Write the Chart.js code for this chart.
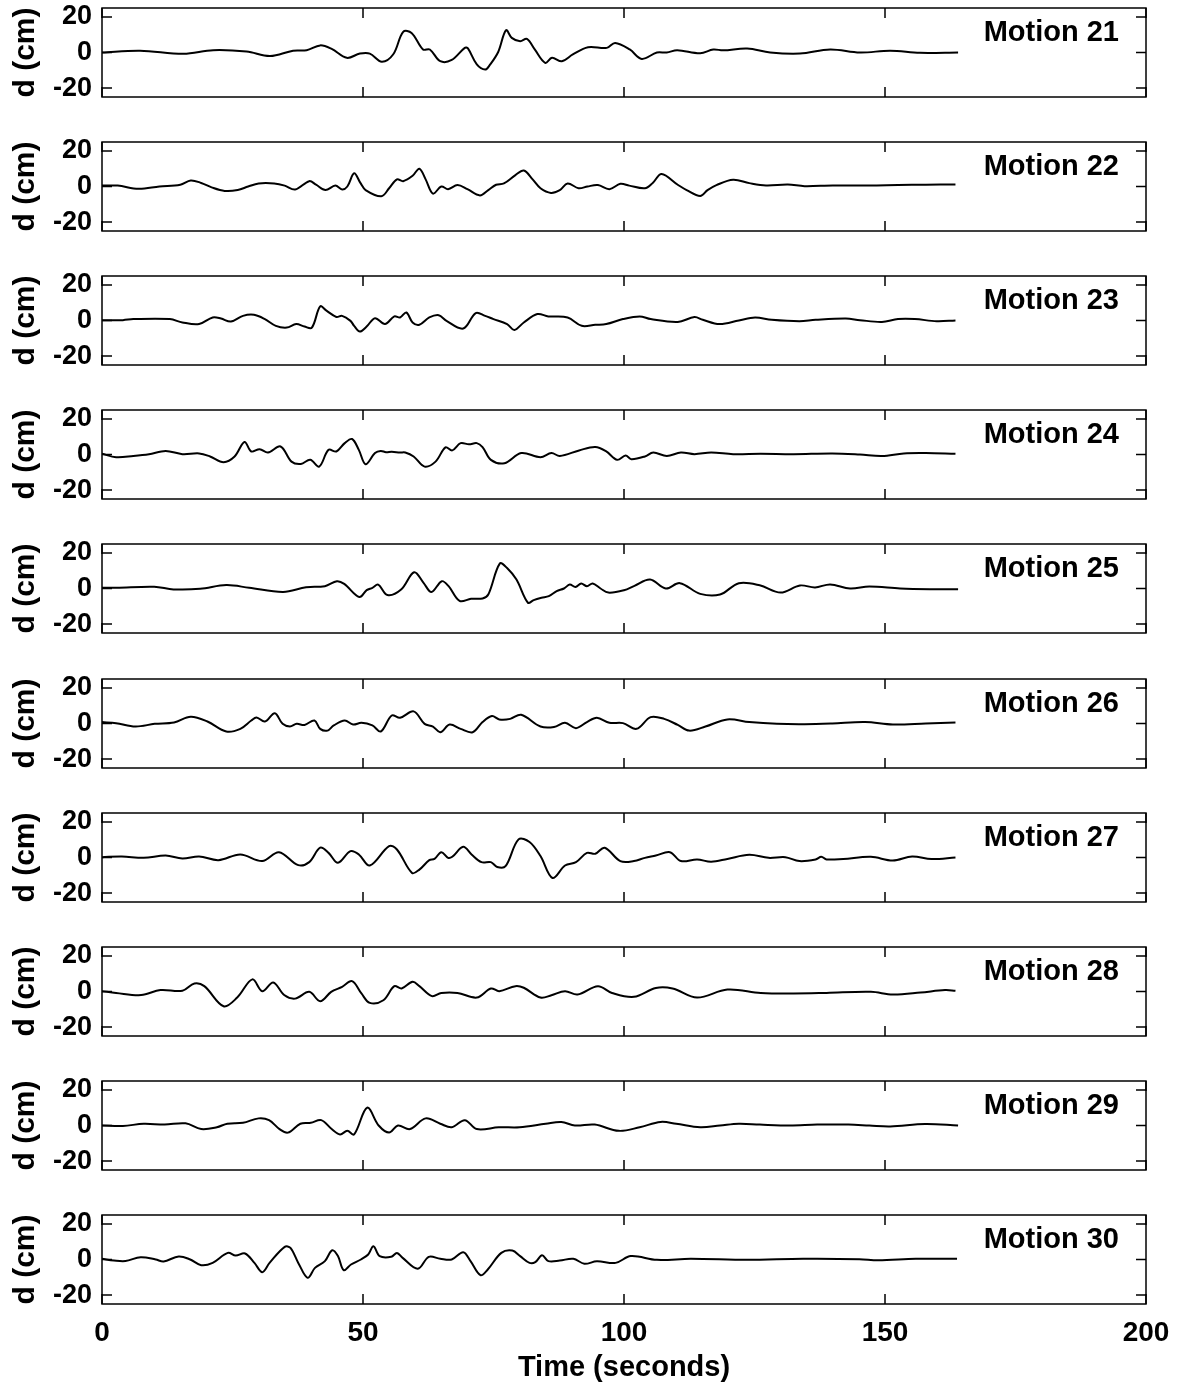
<!DOCTYPE html>
<html>
<head>
<meta charset="utf-8">
<script src="https://cdn.jsdelivr.net/npm/chart.js@4.4.1/dist/chart.umd.min.js"></script>
<style>
  html, body { margin: 0; padding: 0; background: #fff; }
  #wrap { position: relative; width: 1184px; height: 1390px; }
  canvas { position: absolute; left: 0; }
</style>
</head>
<body>
<div id="wrap"></div>
<script>
const motionNames = ["Motion 21", "Motion 22", "Motion 23", "Motion 24", "Motion 25",
  "Motion 26", "Motion 27", "Motion 28", "Motion 29", "Motion 30"];
const xTicks = [0, 50, 100, 150, 200];
const yTicks = [-20, 0, 20];

// [time (s), displacement (cm)]
const m21 = [[0,0],[7.3,1],[15.6,-0.7],[21.3,1.3],[27.7,0.5],[32.2,-2],[36.6,1],[39.2,1.3],[41.8,4],[44,2],[46.9,-3],[49.4,-0.6],[51.3,-0.6],[53.6,-5.2],[55.8,-1],[57.7,11.6],[59.3,11],[61.5,1.7],[62.8,1.7],[64.8,-4.9],[67,-4.2],[69.5,2.6],[70.1,2.3],[71.8,-6.7],[73.4,-9.6],[74.3,-7],[75.9,0.3],[77.4,12.5],[78.5,8.2],[80.1,6.3],[81.4,7.6],[82.9,1.7],[84.9,-5.8],[86.2,-3],[88.1,-4.9],[90.2,-1.1],[93.1,3],[96.7,2.6],[98.3,5.4],[101.1,1.7],[103.4,-3.6],[106.3,0],[108.2,0],[110.2,1.3],[114.6,-0.4],[117.1,1.7],[119,1.2],[123.6,2.2],[128,0],[133.7,-0.6],[139.5,1.7],[145.2,0],[151,1],[156.7,-0.2],[164,0]];
const m22 = [[0,0.5],[3,0.5],[7,-1.3],[11,0],[15,1],[17,3.4],[19,2],[21,-0.5],[23.5,-2.5],[26,-2],[28,0],[30,1.7],[33,1.7],[35,0.5],[37,-1.7],[39.7,3],[41,1],[42.8,-2],[44.7,0.5],[46,-1.7],[47,0],[48.3,7.4],[49.5,2],[50.5,-2],[53.5,-5.5],[55,-1],[56.5,4],[57.7,3],[59.5,6],[60.8,10],[62,4],[63.4,-4],[65,0],[66.3,-1.5],[68.1,0.8],[70,-1.5],[72.4,-5],[74,-2],[75.5,1],[77,1.7],[79.2,6.4],[80.8,9],[82.5,4],[84,-1],[86,-3.6],[87.7,-2],[89.2,1.7],[91.3,-1],[93,0],[95,0.8],[97.2,-1.5],[99.3,1.5],[101,0.5],[104,-1],[105.5,2],[107.2,7],[110.3,1],[112,-2],[114.6,-5.3],[116,-2],[117.7,0.8],[120.9,3.8],[124,1.9],[127.2,0.6],[131.4,1.1],[134.6,0.2],[140,0.6],[147,0.5],[152.5,0.8],[157.8,1],[163.5,1.1]];
const m23 = [[0,0.2],[4,0.2],[6,0.8],[13,0.8],[15.4,-1.1],[18.6,-2],[21.2,1.7],[22.8,1.1],[24.7,-0.6],[27,2.6],[29.1,3.2],[31.2,0.8],[33.3,-3],[35.4,-4],[37.2,-2],[38.8,-3.4],[40.2,-4],[41.8,7.9],[43,5.5],[44.9,2],[46,2.6],[47.6,-0.2],[48.3,-3],[49.4,-6.2],[50.7,-3.4],[52.3,1.3],[54.2,-2],[56,2.3],[57.1,1.7],[58.3,4.5],[59.5,-1.1],[60.8,-2.4],[62.7,1.7],[64.5,3],[66,-0.2],[69.2,-4.5],[71.6,4.2],[73.4,2.6],[75,0.8],[77.6,-2],[79,-5.3],[80.8,-1.1],[83.4,3.6],[85.5,2.3],[89.2,1.7],[91.9,-3],[94.5,-2.4],[96.6,-2],[99.8,0.8],[103,2.3],[105.1,0.8],[110.3,-0.8],[113.5,1.9],[115.1,0.4],[118.3,-2],[122,0],[125.1,1.7],[128.3,0.4],[133.6,-0.4],[136.7,0.4],[142.5,1.1],[145.2,0.2],[149.4,-0.8],[152.5,0.8],[155.7,0.8],[159.9,-0.4],[163.5,0]];
const m24 = [[0,0.4],[2.7,-1.5],[6,-0.8],[9,0.2],[12.2,2],[15.4,0.2],[18.6,0.6],[20.7,-1.1],[23.3,-4.3],[25.4,-1.1],[27.3,7],[28.6,1.7],[30.2,3],[31.8,1.1],[34.2,4.5],[36.3,-4],[38.1,-5.3],[39.9,-3],[41.6,-6.8],[43.4,2.6],[44.9,1.7],[46.5,6.4],[47.9,8.7],[49.2,2.6],[50.5,-5.5],[52.3,0.8],[53.4,2],[54.4,1.3],[55.5,1.5],[57.1,1.1],[58.1,1.1],[59.7,-1.1],[61.8,-6.8],[63.9,-4],[65.8,4],[67.1,2.3],[68.7,6.4],[70.3,5.7],[71.8,6.4],[72.9,4.2],[74.5,-3],[77.1,-4.9],[80.3,0.8],[84,-1.5],[86.1,0.8],[87.7,-0.8],[91.4,2.3],[94.5,4.2],[96.6,1.7],[98.7,-3],[100.3,-0.6],[101.4,-2.6],[104,-1.1],[105.6,1.1],[108.2,-0.8],[110.9,1.1],[113.5,0.2],[116.7,1.1],[120.9,0.2],[126.2,0.4],[132.5,0.2],[139.9,0.6],[145.2,0],[149.4,-0.8],[153.6,0.6],[157.8,0.8],[163.5,0.4]];
const m25 = [[0,0.4],[2.8,0.4],[10,1],[13.7,-0.5],[18.8,-0.2],[23.8,1.9],[28.2,0.4],[34.7,-1.9],[39.1,0.7],[42.7,1.3],[45,4.1],[46.4,2.6],[49.3,-4.8],[50.7,-0.9],[51.8,0.4],[52.9,2.2],[54.7,-3.7],[57.3,-0.6],[59.8,9.1],[61.6,3.2],[63.1,-2],[65.1,4.1],[66.4,1.3],[68.5,-7],[70.7,-5.8],[72.9,-5.6],[74,-3.4],[76.2,14],[77.6,11.5],[79.4,5],[81.6,-8],[82.7,-6.5],[84.2,-5.2],[85.6,-4.3],[87.1,-1.5],[88.5,0],[89.6,2.2],[90.7,0.9],[91.8,2.8],[92.9,1.3],[94,2.8],[95.5,0],[97,-2.3],[100,-1],[102,1.5],[105,5],[108,0],[110.7,3],[114.6,-3],[118.4,-3.4],[122,3],[126,1.8],[130,-2.3],[133.7,1.7],[136.6,0.6],[139.5,2.3],[143.3,0],[147,1.1],[152.9,0],[158.6,-0.4],[164,-0.4]];
const m26 = [[0,0.8],[2.7,0.2],[6.4,-1.7],[10.1,-0.2],[13.8,0.6],[17,3.8],[20.2,1.1],[23.8,-4.5],[26.5,-3],[28.6,1.7],[29.6,3.4],[31.2,1.1],[33.1,5.8],[34.6,-0.2],[36,-1.7],[37.3,-0.2],[38.8,-0.8],[40.7,1.7],[41.8,-3],[43.2,-4],[44.4,-1.1],[46.5,1.7],[48.1,-0.6],[49.7,0.4],[51.8,-1.1],[53.4,-4.5],[55.5,4.5],[57.1,3.2],[59.7,6.8],[61.8,-0.2],[63.4,-1.7],[64.8,-4.9],[66.6,-0.6],[68.7,-3],[71,-4.9],[72.9,0.8],[74.7,4.2],[76.1,2.3],[78.2,2.6],[80.3,4.9],[84,-1.7],[86.6,-2],[88.7,0.4],[90.8,-2.6],[92.9,0.8],[94.8,3.2],[97.2,0.4],[99.8,0.2],[102.4,-3],[105.1,3.6],[107.7,2.6],[110.3,-0.8],[112.5,-4],[115.6,-1.7],[119.8,2.3],[124,0.8],[129.3,-0.2],[134.6,-0.4],[139.9,0],[146.2,0.8],[151.5,-0.6],[157.8,0],[163.5,0.6]];
const m27 = [[0,0.2],[3.8,0.6],[8,-0.2],[12.2,1.1],[15.4,-0.6],[18.6,0.6],[22.3,-1.5],[26.5,1.7],[30.7,-2],[33.9,3],[37.6,-4.3],[39.7,-2.6],[41.8,5.5],[43.4,2.6],[45.2,-3],[47.6,3.6],[49.2,1.7],[51.3,-4.5],[55,6.4],[56.5,4.5],[59.4,-8.7],[60.8,-6.8],[62.7,-1.5],[63.7,-0.8],[65,3],[66.3,-0.2],[67.1,0.4],[69.2,6],[70.8,1.7],[72.7,-2.6],[74.5,-2.6],[75.7,-5.3],[77.3,-4.9],[79.8,10.2],[81.9,8.7],[84,0.8],[86.3,-11.5],[88.7,-4.5],[90.8,-2.6],[92.9,2.6],[94.5,2.1],[96.3,5.5],[99.3,-2],[101.9,-2],[104,-0.2],[106.1,1.1],[108.8,3],[110.9,-2],[114,-1.1],[116.7,-2.4],[119.8,-0.8],[124,1.5],[127.7,-0.2],[130.9,0.2],[133.6,-2],[136.7,-1.1],[137.8,0.4],[138.8,-1.1],[142,-0.8],[147.3,0.4],[151.5,-1.7],[155.2,0.6],[158.9,-0.9],[163.5,0]];
const m28 = [[0,0.2],[2.7,-0.8],[7.5,-2],[11.2,0.8],[15.4,0.4],[17.7,4.5],[19.6,3],[23.3,-8.3],[25.9,-3.4],[28.8,6.8],[30.7,0.2],[32.8,5.1],[34.9,-2],[37,-4],[39.7,-0.2],[41.8,-5.5],[43.9,-0.2],[46,2.6],[47.9,5.8],[49.7,-1.1],[51.3,-6.4],[53.9,-4.9],[56,3],[57.4,1.7],[59.5,5.5],[60.8,3],[63.2,-2.6],[65,-0.8],[68.1,-0.8],[71.8,-3.4],[74.5,1.7],[76.1,0.2],[79.2,3],[80.8,2.1],[84,-3.4],[86.1,-2.1],[88.7,0.2],[91.1,-1.7],[95,3],[97.7,-0.8],[101.9,-3],[106.1,2],[109.3,1.7],[114,-3.4],[119.8,1.1],[126.2,-0.8],[132.5,-1.1],[138.8,-0.8],[147.3,-0.2],[151.5,-1.7],[156.8,-0.6],[161.5,0.8],[163.5,0.4]];
const m29 = [[0,0],[4,-0.3],[8,1],[12,0.5],[16,1.2],[19,-2],[22,-1],[24,1],[27,1.5],[30,4],[32,3],[34,-2],[35.6,-4],[38,1],[40,1.5],[42,3],[44,-2],[45.6,-5],[47,-3],[48.3,-5],[50.8,10],[53,0],[55,-4],[56.7,0],[59,-2],[62,4],[64.8,1],[67,-1],[69.5,3],[71.8,-2],[76,-1],[80,-1],[85,1],[88,2],[90.6,0],[94.4,0.5],[99,-3],[103,-1],[107,2],[110,1],[114.6,-1],[118.4,0],[122,1],[126,0.5],[131.8,0],[137,0.5],[143,0.5],[147,0],[151,-0.5],[157.7,0.8],[164,0]];
const m30 = [[0,0.4],[2.3,-0.6],[4.5,-0.9],[7.4,1.3],[10.3,0],[11.8,-1.1],[14.7,1.7],[16.9,0],[19,-3.2],[21.2,-1.9],[24.1,3.7],[25.6,2.2],[27.4,3.4],[29.2,-1.9],[30.7,-7.1],[32.1,-1.9],[35,7.1],[36.1,6.5],[37.6,-1.9],[39.4,-10.3],[40.8,-4.7],[42.7,-0.9],[44.1,5.2],[45.2,1.9],[46.3,-6],[47.7,-2.8],[49.6,0],[51,2.8],[52,7.5],[53.2,1.9],[55.4,1.5],[56.5,3.7],[57.6,0.9],[60.5,-5.2],[62.6,1.5],[64.8,0.4],[67,0],[69.2,4.1],[70.6,-0.9],[72.5,-8.8],[73.9,-5.6],[76.5,3.7],[78.6,5],[80.1,1.9],[81.9,-1.9],[83,-1.5],[84.3,2.4],[85.5,-0.9],[87.7,-0.6],[90.3,0.4],[92.4,-2.4],[94.8,-1],[98.4,-1.9],[101.3,1.9],[106.3,-0.2],[112.8,0.4],[123.6,-0.2],[134.3,0.4],[145.1,0.2],[148.7,-0.4],[155.9,0.4],[163.8,0.4]];

const motions = [m21, m22, m23, m24, m25, m26, m27, m28, m29, m30];

Chart.defaults.font.family = "'Liberation Sans', Arial, sans-serif";
Chart.defaults.font.weight = 'bold';
Chart.defaults.color = '#000';

const PANEL_STEP = 134.1;
const wrap = document.getElementById('wrap');

// box, inward tick marks and the motion label inside each panel
const panelFrame = {
  id: 'panelFrame',
  afterDraw(chart, args, opts) {
    const { ctx, chartArea: a, scales } = chart;
    ctx.save();
    ctx.strokeStyle = '#000';
    ctx.lineWidth = 1.5;
    ctx.strokeRect(a.left, a.top, a.right - a.left, a.bottom - a.top);
    ctx.beginPath();
    xTicks.forEach(v => {
      const x = scales.x.getPixelForValue(v);
      ctx.moveTo(x, a.top); ctx.lineTo(x, a.top + 10);
      ctx.moveTo(x, a.bottom); ctx.lineTo(x, a.bottom - 10);
    });
    yTicks.forEach(v => {
      const y = scales.y.getPixelForValue(v);
      ctx.moveTo(a.left, y); ctx.lineTo(a.left + 10, y);
      ctx.moveTo(a.right, y); ctx.lineTo(a.right - 10, y);
    });
    ctx.stroke();
    ctx.font = "bold 29px 'Liberation Sans', Arial, sans-serif";
    ctx.fillStyle = '#000';
    ctx.textAlign = 'right';
    ctx.textBaseline = 'middle';
    ctx.fillText(opts.label, a.right - 27, a.top + 25);
    ctx.restore();
  }
};

motions.forEach((pts, i) => {
  const last = i === motions.length - 1;
  const top = Math.round(PANEL_STEP * i);
  const h = last ? 1390 - top : 134;
  const c = document.createElement('canvas');
  c.width = 1184;
  c.height = h;
  c.style.top = top + 'px';
  wrap.appendChild(c);

  new Chart(c, {
    type: 'line',
    data: {
      datasets: [{
        data: pts.map(p => ({ x: p[0], y: p[1] })),
        borderColor: '#000',
        borderWidth: 2,
        pointRadius: 0,
        tension: 0.35,
        fill: false
      }]
    },
    options: {
      responsive: false,
      animation: false,
      devicePixelRatio: 1,
      layout: { padding: { top: 8, right: 38, left: 0, bottom: 0 } },
      plugins: {
        legend: { display: false },
        tooltip: { enabled: false },
        panelFrame: { label: motionNames[i] }
      },
      scales: {
        x: {
          type: 'linear',
          min: 0,
          max: 200,
          afterBuildTicks: s => { s.ticks = xTicks.map(v => ({ value: v })); },
          afterFit: s => { s.height = h - 97; s.paddingLeft = 0; s.paddingRight = 0; },
          grid: { display: false, drawTicks: false },
          border: { display: false },
          ticks: { display: last, font: { size: 28 }, padding: 12, maxRotation: 0 },
          title: {
            display: last,
            text: 'Time (seconds)',
            font: { size: 29 },
            padding: { top: 0, bottom: 5 }
          }
        },
        y: {
          type: 'linear',
          min: -25,
          max: 25,
          afterBuildTicks: s => { s.ticks = yTicks.map(v => ({ value: v })); },
          afterFit: s => { s.width = 102; s.paddingTop = 0; s.paddingBottom = 0; },
          grid: { display: false, drawTicks: false },
          border: { display: false },
          ticks: { font: { size: 27 }, padding: 10 },
          title: {
            display: true,
            text: 'd (cm)',
            font: { size: 30 },
            padding: { top: 8, bottom: 0 }
          }
        }
      }
    },
    plugins: [panelFrame]
  });
});
</script>
</body>
</html>
